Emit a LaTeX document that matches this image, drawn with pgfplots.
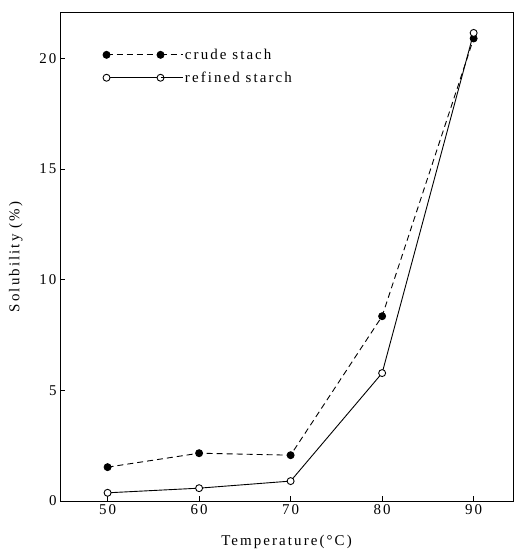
\documentclass[border=0pt]{standalone}
\usepackage{pgfplots}
\pgfplotsset{compat=1.18}
\usepackage{fontspec}
\setmainfont{Liberation Serif}[LetterSpace=14]

\begin{document}
\begin{tikzpicture}
\begin{axis}[
  scale only axis,
  width=453bp, height=488bp,
  xmin=44.8, xmax=94.3,
  ymin=0, ymax=22.05,
  xtick={50,60,70,80,90},
  ytick={0,5,10,15,20},
  tick pos=left,
  tick align=inside,
  major tick length=5bp,
  axis line style={line width=1pt},
  every tick/.style={black, line width=0.8pt},
  tick label style={font=\fontsize{15}{17}\selectfont},
  /pgf/number format/assume math mode=true,
  xlabel={Temperature(°C)},
  ylabel={Solubility (\%)},
  label style={font=\fontsize{15}{17}\selectfont},
  xlabel style={yshift=-14bp},
  ylabel style={yshift=10bp},
  legend style={draw=none, fill=none, at={(rel axis cs:0.088,0.935)}, anchor=north west,
    font=\fontsize{15}{17}\selectfont, row sep=7bp, cells={anchor=west}},
  legend image code/.code={\draw[#1] plot coordinates {(0bp,0bp) (54bp,0bp)};
    \path (54bp,0bp) -- (76bp,0bp);},
]
\addplot[black, line width=0.9pt, densely dashed, dash pattern=on 6bp off 4bp, mark=*, mark size=3.5pt,
  mark options={solid, fill=black}]
  coordinates {(50,1.53) (60,2.16) (70,2.07) (80,8.35) (90,20.9)};
\addlegendentry{crude stach}
\addplot[black, line width=0.9pt, mark=*, mark size=3.5pt, mark options={solid, fill=white}]
  coordinates {(50,0.37) (60,0.58) (70,0.9) (80,5.78) (90,21.15)};
\addlegendentry{refined starch}
\end{axis}
\pgfresetboundingbox
\path[use as bounding box] (current axis.south west) ++(-60bp,-57bp) rectangle ([shift={(3bp,13bp)}]current axis.north east);
\end{tikzpicture}
\end{document}
